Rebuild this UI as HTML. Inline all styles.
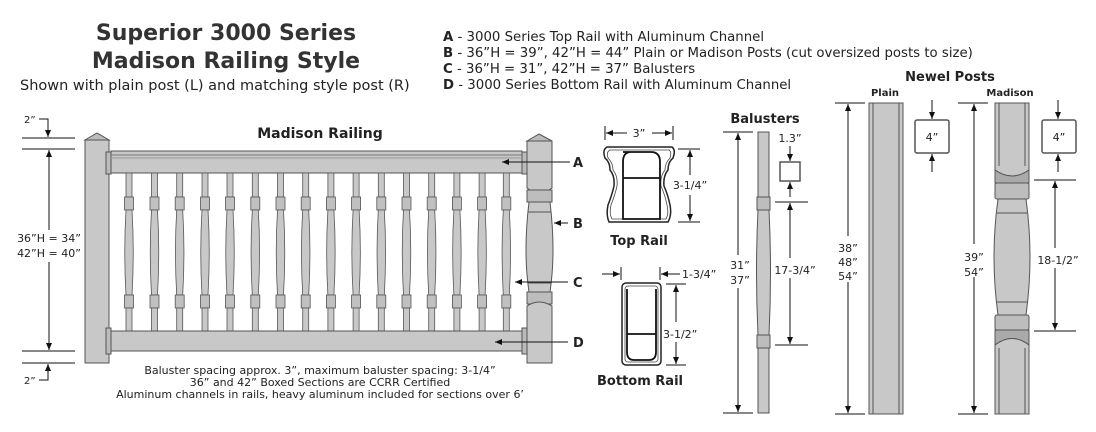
<!DOCTYPE html>
<html><head><meta charset="utf-8"><style>
html,body{margin:0;padding:0;background:#fff;}
svg{display:block;}
text{font-family:"DejaVu Sans","Liberation Sans",sans-serif;fill:#222;}
.b{font-weight:bold;}
</style></head><body>
<svg width="1096" height="432" viewBox="0 0 1096 432" xmlns="http://www.w3.org/2000/svg">
<defs>
<marker id="ar" markerWidth="8" markerHeight="8" refX="7" refY="4" orient="auto" markerUnits="userSpaceOnUse"><path d="M0,1 L7,4 L0,7 z" fill="#111"/></marker>
<g id="bal">
<rect x="-3" y="173" width="6" height="24" fill="#c8c8c8" stroke="#555" stroke-width="0.8"/>
<rect x="-4.5" y="197" width="9" height="13" fill="#c0c0c0" stroke="#555" stroke-width="0.8"/>
<path d="M-3,210 Q-5.5,252 -3,295 L3,295 Q5.5,252 3,210 z" fill="#c8c8c8" stroke="#555" stroke-width="0.8"/>
<rect x="-4.5" y="295" width="9" height="13" fill="#c0c0c0" stroke="#555" stroke-width="0.8"/>
<rect x="-3" y="308" width="6" height="23" fill="#c8c8c8" stroke="#555" stroke-width="0.8"/>
</g>
</defs>

<!-- Header -->
<text x="226" y="40" text-anchor="middle" class="b" style="font-size:22px;fill:#333">Superior 3000 Series</text>
<text x="226" y="68" text-anchor="middle" class="b" style="font-size:22px;fill:#333">Madison Railing Style</text>
<text x="20" y="90" font-size="14.5">Shown with plain post (L) and matching style post (R)</text>
<g font-size="13.3">
<text x="443" y="41"><tspan class="b">A</tspan> - 3000 Series Top Rail with Aluminum Channel</text>
<text x="443" y="57"><tspan class="b">B</tspan> - 36”H = 39”, 42”H = 44” Plain or Madison Posts (cut oversized posts to size)</text>
<text x="443" y="73"><tspan class="b">C</tspan> - 36”H = 31”, 42”H = 37” Balusters</text>
<text x="443" y="89"><tspan class="b">D</tspan> - 3000 Series Bottom Rail with Aluminum Channel</text>
</g>

<!-- Railing -->
<text x="320" y="138" text-anchor="middle" class="b" font-size="14">Madison Railing</text>
<path d="M85,140 L97,133 L109,140 z" fill="#bbb" stroke="#555"/>
<rect x="85" y="140" width="24" height="223" fill="#c8c8c8" stroke="#555"/>
<path d="M527,141 L539,134 L552,141 z" fill="#bbb" stroke="#555"/>
<path d="M527,141 H552 V188 Q539,198 527,188 z" fill="#c8c8c8" stroke="#555"/>
<rect x="527" y="190" width="25" height="12" fill="#bdbdbd" stroke="#555"/>
<path d="M529,202 H550 Q556,252 550,292 H529 Q523,252 529,202 z" fill="#c8c8c8" stroke="#555"/>
<line x1="528" y1="212" x2="551" y2="212" stroke="#555"/>
<line x1="528" y1="283" x2="551" y2="283" stroke="#555"/>
<rect x="527" y="292" width="25" height="12" fill="#bdbdbd" stroke="#555"/>
<path d="M527,306 Q539,298 552,306 V363 H527 z" fill="#c8c8c8" stroke="#555"/>
<rect x="106" y="152" width="5" height="22" fill="#bbb" stroke="#555"/>
<rect x="522" y="152" width="5" height="22" fill="#bbb" stroke="#555"/>
<rect x="111" y="151" width="411" height="22" fill="#c8c8c8" stroke="#555"/>
<line x1="111" y1="155" x2="522" y2="155" stroke="#777"/>
<line x1="111" y1="158" x2="522" y2="158" stroke="#999"/>
<use href="#bal" x="129"/><use href="#bal" x="154.5"/><use href="#bal" x="179.7"/><use href="#bal" x="205"/>
<use href="#bal" x="230"/><use href="#bal" x="255.3"/><use href="#bal" x="280.5"/><use href="#bal" x="305.7"/>
<use href="#bal" x="330.9"/><use href="#bal" x="356.1"/><use href="#bal" x="381.3"/><use href="#bal" x="406.5"/>
<use href="#bal" x="431.7"/><use href="#bal" x="456.9"/><use href="#bal" x="482.1"/><use href="#bal" x="506.3"/>
<rect x="106" y="328" width="5" height="26" fill="#bbb" stroke="#555"/>
<rect x="522" y="328" width="5" height="26" fill="#bbb" stroke="#555"/>
<rect x="111" y="331" width="411" height="20" fill="#c8c8c8" stroke="#555"/>
<g stroke="#111" stroke-width="1">
<line x1="570" y1="162" x2="502" y2="162" marker-end="url(#ar)"/>
<line x1="568" y1="223" x2="554" y2="223" marker-end="url(#ar)"/>
<line x1="568" y1="282" x2="515" y2="282" marker-end="url(#ar)"/>
<line x1="568" y1="342" x2="495" y2="342" marker-end="url(#ar)"/>
</g>
<g class="b" font-size="13">
<text x="573" y="167">A</text><text x="573" y="228">B</text><text x="573" y="287">C</text><text x="573" y="347">D</text>
</g>
<g stroke="#111" stroke-width="1" fill="none">
<line x1="22" y1="138" x2="75" y2="138"/><line x1="22" y1="149" x2="75" y2="149"/>
<line x1="22" y1="351" x2="75" y2="351"/><line x1="22" y1="363" x2="75" y2="363"/>
<line x1="49" y1="230" x2="49" y2="150" marker-end="url(#ar)"/>
<line x1="49" y1="262" x2="49" y2="350" marker-end="url(#ar)"/>
<polyline points="39,119 48,119 48,137" marker-end="url(#ar)"/>
<polyline points="39,380 48,380 48,364" marker-end="url(#ar)"/>
</g>
<g font-size="11" text-anchor="middle">
<text x="49" y="242">36”H = 34”</text><text x="49" y="257">42”H = 40”</text>
</g>
<text x="24" y="123" font-size="10">2”</text>
<text x="24" y="384" font-size="10">2”</text>
<g font-size="11" text-anchor="middle">
<text x="320" y="374">Baluster spacing approx. 3”, maximum baluster spacing: 3-1/4”</text>
<text x="320" y="386">36” and 42” Boxed Sections are CCRR Certified</text>
<text x="320" y="398">Aluminum channels in rails, heavy aluminum included for sections over 6’</text>
</g>

<!-- Top rail profile -->
<path d="M607,147 H672 Q676,150 673,158 Q668,162 668,170 Q663,176 664,186 Q668,195 670,205 Q672,215 668,222 H609 Q606,215 608,205 Q612,195 614,186 Q615,176 610,170 Q610,162 605,158 Q602,150 607,147 z" fill="#fff" stroke="#222" stroke-width="1.5"/>
<path d="M610,150 H669 Q672,152 670,158 Q665,163 665,170 Q660,176 661,186 Q665,195 667,205 Q669,214 666,219 H612 Q609,214 611,205 Q615,195 617,186 Q618,176 613,170 Q613,163 608,158 Q606,152 610,150 z" fill="none" stroke="#444" stroke-width="0.8"/>
<path d="M623,152 H651 Q660,152 660,162 V219 H623 V162 Q623,152 631,152" fill="#fff" stroke="#111" stroke-width="1.8"/>
<line x1="623" y1="178" x2="660" y2="178" stroke="#111" stroke-width="1.8"/>
<g stroke="#111" stroke-width="1" fill="none">
<line x1="605" y1="126" x2="605" y2="140"/><line x1="673" y1="126" x2="673" y2="140"/>
<line x1="627" y1="133" x2="606" y2="133" marker-end="url(#ar)"/>
<line x1="652" y1="133" x2="672" y2="133" marker-end="url(#ar)"/>
<line x1="678" y1="149" x2="700" y2="149"/><line x1="678" y1="222" x2="700" y2="222"/>
<line x1="690" y1="175" x2="690" y2="150" marker-end="url(#ar)"/>
<line x1="690" y1="195" x2="690" y2="221" marker-end="url(#ar)"/>
</g>
<text x="639" y="137" text-anchor="middle" font-size="11">3”</text>
<text x="690" y="189" text-anchor="middle" font-size="11">3-1/4”</text>
<text x="639" y="245" text-anchor="middle" class="b" font-size="13">Top Rail</text>

<!-- Bottom rail profile -->
<rect x="622" y="283" width="39" height="82" rx="4" fill="#fff" stroke="#222" stroke-width="1.5"/>
<rect x="625" y="286" width="33" height="76" rx="3" fill="none" stroke="#444" stroke-width="0.8"/>
<path d="M627,289 V352 Q627,360 634,360 H649 Q656,360 656,352 V289" fill="none" stroke="#111" stroke-width="1.8"/>
<line x1="627" y1="334" x2="656" y2="334" stroke="#111" stroke-width="1.8"/>
<g stroke="#111" stroke-width="1" fill="none">
<line x1="621" y1="267" x2="621" y2="280"/><line x1="660" y1="267" x2="660" y2="280"/>
<line x1="602" y1="274" x2="620" y2="274" marker-end="url(#ar)"/>
<line x1="680" y1="274" x2="661" y2="274" marker-end="url(#ar)"/>
<line x1="666" y1="284" x2="686" y2="284"/><line x1="666" y1="365" x2="686" y2="365"/>
<line x1="676" y1="322" x2="676" y2="285" marker-end="url(#ar)"/>
<line x1="676" y1="342" x2="676" y2="364" marker-end="url(#ar)"/>
</g>
<text x="682" y="278" font-size="11">1-3/4”</text>
<text x="663" y="338" font-size="11">3-1/2”</text>
<text x="640" y="385" text-anchor="middle" class="b" font-size="13">Bottom Rail</text>

<!-- Balusters detail -->
<text x="765" y="123" text-anchor="middle" class="b" font-size="13">Balusters</text>
<rect x="758" y="132" width="11" height="65" fill="#c8c8c8" stroke="#555"/>
<rect x="757" y="197" width="13" height="13" fill="#bdbdbd" stroke="#555"/>
<path d="M758,210 Q755,272 758,335 H769 Q772,272 769,210 z" fill="#c8c8c8" stroke="#555"/>
<rect x="757" y="335" width="13" height="13" fill="#bdbdbd" stroke="#555"/>
<rect x="758" y="348" width="11" height="65" fill="#c8c8c8" stroke="#555"/>
<rect x="780" y="162" width="20" height="19" fill="#fff" stroke="#555" stroke-width="1.5"/>
<g stroke="#111" stroke-width="1" fill="none">
<line x1="723" y1="132" x2="753" y2="132"/><line x1="723" y1="413" x2="753" y2="413"/>
<line x1="738" y1="255" x2="738" y2="133" marker-end="url(#ar)"/>
<line x1="738" y1="288" x2="738" y2="412" marker-end="url(#ar)"/>
<line x1="790" y1="146" x2="790" y2="161" marker-end="url(#ar)"/>
<line x1="790" y1="197" x2="790" y2="182" marker-end="url(#ar)"/>
<line x1="775" y1="202" x2="808" y2="202"/><line x1="775" y1="345" x2="808" y2="345"/>
<line x1="790" y1="258" x2="790" y2="203" marker-end="url(#ar)"/>
<line x1="790" y1="278" x2="790" y2="344" marker-end="url(#ar)"/>
</g>
<text x="790" y="142" text-anchor="middle" font-size="11">1.3”</text>
<text x="740" y="269" text-anchor="middle" font-size="11">31”</text>
<text x="740" y="284" text-anchor="middle" font-size="11">37”</text>
<text x="795" y="274" text-anchor="middle" font-size="11">17-3/4”</text>

<!-- Newel posts -->
<text x="950" y="81" text-anchor="middle" class="b" font-size="13">Newel Posts</text>
<text x="885" y="96" text-anchor="middle" class="b" font-size="10">Plain</text>
<text x="1010" y="96" text-anchor="middle" class="b" font-size="10">Madison</text>
<rect x="869" y="103" width="34" height="311" fill="#c8c8c8" stroke="#555"/>
<line x1="873" y1="103" x2="873" y2="414" stroke="#555"/>
<line x1="899" y1="103" x2="899" y2="414" stroke="#555"/>
<rect x="915" y="120" width="34" height="33" rx="2" fill="#fff" stroke="#555" stroke-width="1.5"/>
<text x="932" y="141" text-anchor="middle" font-size="11">4”</text>
<g stroke="#111" stroke-width="1" fill="none">
<line x1="835" y1="103" x2="865" y2="103"/><line x1="835" y1="414" x2="865" y2="414"/>
<line x1="848" y1="236" x2="848" y2="104" marker-end="url(#ar)"/>
<line x1="848" y1="282" x2="848" y2="413" marker-end="url(#ar)"/>
<line x1="932" y1="100" x2="932" y2="119" marker-end="url(#ar)"/>
<line x1="932" y1="172" x2="932" y2="154" marker-end="url(#ar)"/>
</g>
<text x="848" y="252" text-anchor="middle" font-size="11">38”</text>
<text x="848" y="266" text-anchor="middle" font-size="11">48”</text>
<text x="848" y="280" text-anchor="middle" font-size="11">54”</text>

<path d="M995,103 H1029 V170 Q1012,182 995,170 z" fill="#c8c8c8" stroke="#555"/>
<line x1="999" y1="103" x2="999" y2="166" stroke="#555"/><line x1="1025" y1="103" x2="1025" y2="166" stroke="#555"/>
<path d="M995,170 Q1012,182 1029,170 V183 H995 z" fill="#aaa" stroke="#555"/>
<rect x="995" y="183" width="34" height="16" rx="2" fill="#bdbdbd" stroke="#555"/>
<path d="M998,199 H1026 Q1034,257 1026,315 H998 Q990,257 998,199 z" fill="#c8c8c8" stroke="#555"/>
<line x1="997" y1="213" x2="1027" y2="213" stroke="#555"/>
<line x1="997" y1="302" x2="1027" y2="302" stroke="#555"/>
<rect x="995" y="315" width="34" height="15" rx="2" fill="#bdbdbd" stroke="#555"/>
<path d="M995,330 H1029 V345 Q1012,332 995,345 z" fill="#aaa" stroke="#555"/>
<path d="M995,345 Q1012,332 1029,345 V414 H995 z" fill="#c8c8c8" stroke="#555"/>
<line x1="999" y1="348" x2="999" y2="414" stroke="#555"/><line x1="1025" y1="348" x2="1025" y2="414" stroke="#555"/>
<rect x="1042" y="120" width="34" height="33" rx="2" fill="#fff" stroke="#555" stroke-width="1.5"/>
<text x="1059" y="141" text-anchor="middle" font-size="11">4”</text>
<g stroke="#111" stroke-width="1" fill="none">
<line x1="958" y1="103" x2="988" y2="103"/><line x1="958" y1="414" x2="988" y2="414"/>
<line x1="974" y1="244" x2="974" y2="104" marker-end="url(#ar)"/>
<line x1="974" y1="277" x2="974" y2="413" marker-end="url(#ar)"/>
<line x1="1058" y1="100" x2="1058" y2="119" marker-end="url(#ar)"/>
<line x1="1058" y1="172" x2="1058" y2="154" marker-end="url(#ar)"/>
<line x1="1034" y1="180" x2="1076" y2="180"/><line x1="1034" y1="331" x2="1076" y2="331"/>
<line x1="1055" y1="248" x2="1055" y2="181" marker-end="url(#ar)"/>
<line x1="1055" y1="268" x2="1055" y2="330" marker-end="url(#ar)"/>
</g>
<text x="974" y="261" text-anchor="middle" font-size="11">39”</text>
<text x="974" y="276" text-anchor="middle" font-size="11">54”</text>
<text x="1058" y="264" text-anchor="middle" font-size="11">18-1/2”</text>
</svg>
</body></html>
